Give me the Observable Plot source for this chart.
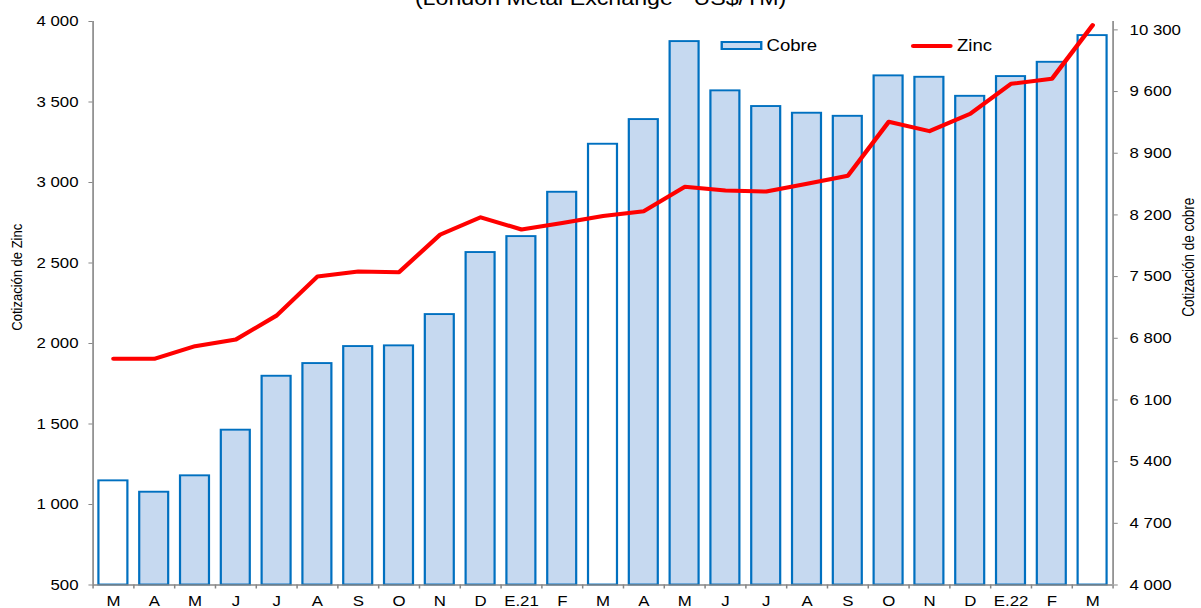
<!DOCTYPE html>
<html>
<head>
<meta charset="utf-8">
<script src="https://cdn.jsdelivr.net/npm/d3@7"></script>
<script src="https://cdn.jsdelivr.net/npm/@observablehq/plot@0.6"></script>
<style>
  html, body { margin: 0; padding: 0; background: #fff; }
  #wrap { position: relative; width: 1201px; height: 608px; overflow: hidden; font-family: "Liberation Sans", Arial, sans-serif; }
  #wrap svg { position: absolute; left: 0; top: 0; }
  #legend { position: absolute; left: 0; top: 0; height: 608px; transform-origin: 0 0; pointer-events: none; }
  .leg { position: absolute; font-size: 16px; line-height: 16px; color: #000; white-space: nowrap; }
</style>
</head>
<body>
<div id="wrap"><div id="legend"></div></div>
<script>
// ---- data ----
const months = ["M","A","M","J","J","A","S","O","N","D","E.21","F","M","A","M","J","J","A","S","O","N","D","E.22","F","M"];
const cobre = [5182,5053,5239,5757,6369,6513,6706,6714,7069,7773,7954,8457,9002,9282,10167,9608,9430,9354,9319,9778,9762,9546,9770,9932,10235];
const zinc = [1905,1905,1983,2025,2174,2416,2447,2443,2675,2784,2708,2748,2792,2822,2973,2950,2944,2992,3042,3377,3319,3427,3613,3644,3977];
const zincTicks = [500,1000,1500,2000,2500,3000,3500,4000];
const cobreTicks = [4000,4700,5400,6100,6800,7500,8200,8900,9600,10300];
const zincDomain = [500, 4000];
const cobreDomain = [4000, 10395];
const title = "(London Metal Exchange - US$/TM)";
const legendLabels = ["Cobre", "Zinc"];

// ---- helpers ----
const toZ = c => zincDomain[0] + (c - cobreDomain[0]) * (zincDomain[1] - zincDomain[0]) / (cobreDomain[1] - cobreDomain[0]);
const fromZ = z => cobreDomain[0] + (z - zincDomain[0]) * (cobreDomain[1] - cobreDomain[0]) / (zincDomain[1] - zincDomain[0]);
const fmt = d3.formatLocale({decimal: ",", thousands: " ", grouping: [3], currency: ["", ""]}).format(",d");
const idx = d3.range(months.length);

// The reference chart is horizontally stretched; draw at an inner width and stretch to 1201.
const W = 1201, H = 608;
const Wi = 1035;
const s = W / Wi;
const mL = 92.5 / s, mR = 88.5 / s, mT = 21, mB = 23.5;
const step = (Wi - mL - mR) / months.length;
const frameH = H - mT - mB;
const axisGray = "#868686";

const chart = Plot.plot({
  width: Wi, height: H,
  marginLeft: mL, marginRight: mR, marginTop: mT, marginBottom: mB,
  style: {fontFamily: "'Liberation Sans', Arial, sans-serif", fontSize: "14.5px", color: "#000", background: "#fff", overflow: "visible"},
  x: {type: "band", domain: idx, paddingInner: 0.29, paddingOuter: 0.145, round: false},
  y: {domain: zincDomain},
  marks: [
    // bars (copper, right axis)
    Plot.barY(idx, {filter: i => i % 12 !== 0, x: i => i, y1: zincDomain[0], y2: i => toZ(cobre[i]), fill: "#C6D9F0", stroke: "#0070C0", strokeWidth: 1.9}),
    Plot.barY(idx, {filter: i => i % 12 === 0, x: i => i, y1: zincDomain[0], y2: i => toZ(cobre[i]), fill: "#ffffff", stroke: "#0070C0", strokeWidth: 1.9}),
    // zinc line (left axis)
    Plot.line(idx, {x: i => i, y: i => zinc[i], stroke: "#FF0000", strokeWidth: 4, strokeLinejoin: "round", strokeLinecap: "round"}),
    // axis lines
    Plot.ruleY([zincDomain[0]], {stroke: axisGray, strokeWidth: 1.5}),
    Plot.ruleX([0], {x: d => d, dx: -step / 2, stroke: axisGray, strokeWidth: 1.4}),
    Plot.ruleX([months.length - 1], {x: d => d, dx: step / 2, stroke: axisGray, strokeWidth: 1.4}),
    // category boundary ticks
    Plot.ruleX(idx, {x: i => i, dx: -step / 2, insetTop: frameH, insetBottom: -4, stroke: axisGray, strokeWidth: 1.3}),
    Plot.ruleX([months.length - 1], {x: d => d, dx: step / 2, insetTop: frameH, insetBottom: -4, stroke: axisGray, strokeWidth: 1.3}),
    // axes
    Plot.axisY(zincTicks, {anchor: "left", tickSize: 3.5, tickPadding: 9, tickFormat: fmt, stroke: axisGray, label: null}),
    Plot.axisY(cobreTicks.map(toZ), {anchor: "right", tickSize: 3.5, tickPadding: 10.7, tickFormat: d => fmt(Math.round(fromZ(d) / 100) * 100), stroke: axisGray, label: null}),
    Plot.axisX({tickSize: 0, tickPadding: 11, tickFormat: i => months[i], label: null}),
    // axis titles
    Plot.text(["Cotización de Zinc"], {frameAnchor: "left", rotate: -90, dx: (17 - 92.5) / s, dy: -26, fontSize: 13, textAnchor: "middle", lineAnchor: "middle"}),
    Plot.text(["Cotización de cobre"], {frameAnchor: "right", rotate: -90, dx: (1188 - 1112.5) / s, dy: -46, fontSize: 13.5, textAnchor: "middle", lineAnchor: "middle"}),
    // title (cut off at top, as in the reference)
    Plot.text([title], {frameAnchor: "top", dx: -2.5 / s, dy: -17, lineAnchor: "bottom", fontSize: 20})
  ]
});

// stretch horizontally to the full width
chart.setAttribute("width", W);
chart.setAttribute("height", H);
chart.setAttribute("viewBox", `0 0 ${Wi} ${H}`);
chart.setAttribute("preserveAspectRatio", "none");
chart.style.width = W + "px";
chart.style.height = H + "px";
chart.style.maxWidth = "none";

const wrap = document.getElementById("wrap");
wrap.insertBefore(chart, wrap.firstChild);

// legend (inside the plot area), drawn in inner coordinates and stretched the same way
const legend = document.getElementById("legend");
legend.style.width = Wi + "px";
legend.style.transform = `scaleX(${s})`;
function addEl(style, text, cls) {
  const el = document.createElement("div");
  if (cls) el.className = cls;
  Object.assign(el.style, style);
  if (text) el.textContent = text;
  legend.appendChild(el);
}
addEl({position: "absolute", left: (721 / s) + "px", top: "41px", width: (41 / s) + "px", height: "9px", boxSizing: "border-box", background: "#C6D9F0", border: "2px solid #0070C0"});
addEl({left: (766.5 / s) + "px", top: "37.5px"}, legendLabels[0], "leg");
addEl({position: "absolute", left: (911 / s) + "px", top: "43.7px", width: (42 / s) + "px", height: "4px", background: "#FF0000", borderRadius: "2px"});
addEl({left: (957 / s) + "px", top: "37.5px"}, legendLabels[1], "leg");
</script>
</body>
</html>
